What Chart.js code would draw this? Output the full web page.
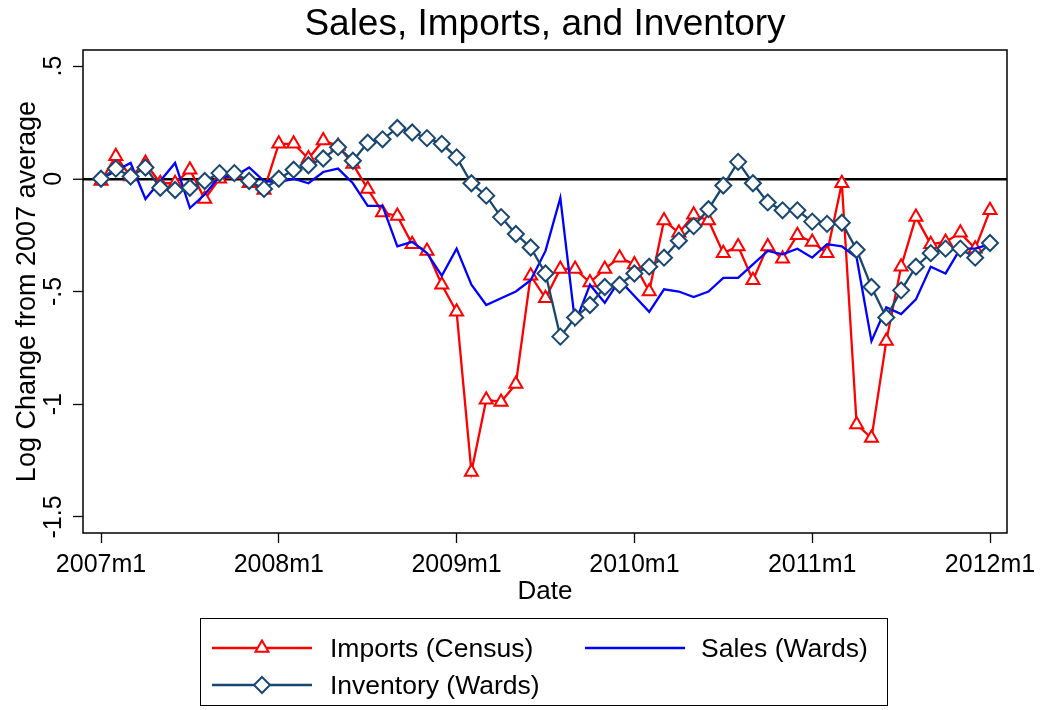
<!DOCTYPE html>
<html>
<head>
<meta charset="utf-8">
<script src="https://cdn.jsdelivr.net/npm/chart.js@4.4.1/dist/chart.umd.min.js"></script>
<style>
html,body{margin:0;padding:0;background:#fff;}
#wrap{position:relative;width:1045px;height:710px;font-family:"Liberation Sans",Arial,Helvetica,sans-serif;}
#c{position:absolute;left:0;top:0;}
#legend{position:absolute;left:200px;top:618px;width:688px;height:88px;border:1px solid #000;box-sizing:border-box;}
.sym{position:absolute;width:100px;height:30px;}
.lab{position:absolute;height:30px;line-height:30px;font-size:26.5px;color:#000;white-space:nowrap;}
</style>
</head>
<body>
<div id="wrap">
<canvas id="c" width="1045" height="710"></canvas>
<div id="legend"></div>
</div>
<script>
// ---- data (month index 0 = 2007m1 ... 60 = 2012m1) ----
const months = ["2007m1","2007m2","2007m3","2007m4","2007m5","2007m6","2007m7","2007m8","2007m9","2007m10","2007m11","2007m12",
"2008m1","2008m2","2008m3","2008m4","2008m5","2008m6","2008m7","2008m8","2008m9","2008m10","2008m11","2008m12",
"2009m1","2009m2","2009m3","2009m4","2009m5","2009m6","2009m7","2009m8","2009m9","2009m10","2009m11","2009m12",
"2010m1","2010m2","2010m3","2010m4","2010m5","2010m6","2010m7","2010m8","2010m9","2010m10","2010m11","2010m12",
"2011m1","2011m2","2011m3","2011m4","2011m5","2011m6","2011m7","2011m8","2011m9","2011m10","2011m11","2011m12",
"2012m1"];

const importsCensus = [-0.01,0.10,0.01,0.07,-0.02,-0.02,0.04,-0.09,0.00,0.02,-0.02,-0.05,
0.155,0.155,0.09,0.17,0.145,0.065,-0.045,-0.15,-0.165,-0.29,-0.32,-0.47,
-0.59,-1.30,-0.98,-0.99,-0.91,-0.43,-0.53,-0.40,-0.40,-0.46,-0.40,-0.35,
-0.38,-0.50,-0.185,-0.24,-0.16,-0.185,-0.33,-0.30,-0.45,-0.30,-0.355,-0.25,
-0.28,-0.33,-0.02,-1.09,-1.15,-0.72,-0.39,-0.17,-0.29,-0.28,-0.24,-0.31,
-0.14];

const salesWards = [0.00,0.035,0.07,-0.09,-0.01,0.07,-0.13,-0.07,0.01,0.01,0.05,-0.01,
-0.015,0.00,-0.02,0.03,0.045,-0.02,-0.12,-0.12,-0.30,-0.28,-0.33,-0.43,
-0.31,-0.47,-0.56,-0.53,-0.50,-0.45,-0.32,-0.085,-0.64,-0.47,-0.55,-0.45,
-0.52,-0.59,-0.49,-0.50,-0.525,-0.50,-0.44,-0.44,-0.38,-0.32,-0.335,-0.31,
-0.35,-0.29,-0.30,-0.35,-0.72,-0.57,-0.60,-0.535,-0.39,-0.42,-0.31,-0.31,
-0.29];

const inventoryWards = [0.00,0.045,0.01,0.05,-0.04,-0.05,-0.04,-0.01,0.025,0.025,-0.01,-0.045,
0.00,0.04,0.06,0.09,0.14,0.08,0.16,0.175,0.225,0.205,0.18,0.155,
0.095,-0.02,-0.075,-0.17,-0.245,-0.305,-0.42,-0.70,-0.615,-0.56,-0.48,-0.47,
-0.42,-0.39,-0.35,-0.275,-0.21,-0.135,-0.03,0.075,-0.02,-0.105,-0.14,-0.14,
-0.19,-0.20,-0.195,-0.315,-0.48,-0.615,-0.495,-0.39,-0.33,-0.31,-0.31,-0.35,
-0.285];

const xTickValues = [0,12,24,36,48,60];
const xTickLabels = ["2007m1","2008m1","2009m1","2010m1","2011m1","2012m1"];
const yTickValues = [0.5,0,-0.5,-1,-1.5];
const yTickLabels = [".5","0","-.5","-1","-1.5"];

const seriesNames = ["Imports (Census)","Sales (Wards)","Inventory (Wards)"];
const RED = "#ff0000", BLUE = "#0000ff", NAVY = "#1a476f";
const FONT = '"Liberation Sans", Arial, Helvetica, sans-serif';

const toXY = arr => arr.map((v,i)=>({x:i,y:v}));

const extras = {
  id:'extras',
  afterDraw(chart){
    const {ctx, chartArea:a} = chart;
    const y = chart.scales.y;
    ctx.save();
    // frame
    ctx.strokeStyle = '#000';
    ctx.lineWidth = 1.5;
    ctx.strokeRect(a.left, a.top, a.right - a.left, a.bottom - a.top);
    // y tick labels (rotated, Stata style)
    ctx.fillStyle = '#000';
    ctx.font = '25px ' + FONT;
    ctx.textAlign = 'center';
    ctx.textBaseline = 'middle';
    yTickValues.forEach((v,i)=>{
      const py = y.getPixelForValue(v);
      ctx.save();
      ctx.translate(54, py);
      ctx.rotate(-Math.PI/2);
      ctx.fillText(yTickLabels[i], 0, 0);
      ctx.restore();
    });
    // title
    ctx.font = '37px ' + FONT;
    ctx.textBaseline = 'alphabetic';
    ctx.fillText('Sales, Imports, and Inventory', (a.left + a.right)/2, 35);
    ctx.restore();
  }
};

new Chart(document.getElementById('c'), {
  type: 'line',
  data: {
    datasets: [
      {label: seriesNames[0], data: toXY(importsCensus), borderColor: RED, borderWidth: 2.3,
       pointStyle: 'triangle', pointRadius: 7.5, pointBorderWidth: 2, pointBorderColor: RED,
       pointBackgroundColor: '#fff', order: 2},
      {label: seriesNames[1], data: toXY(salesWards), borderColor: BLUE, borderWidth: 2.3,
       pointRadius: 0, order: 1},
      {label: seriesNames[2], data: toXY(inventoryWards), borderColor: NAVY, borderWidth: 2.3,
       pointStyle: 'rectRot', pointRadius: 8, pointBorderWidth: 2, pointBorderColor: NAVY,
       pointBackgroundColor: '#fff', order: 0}
    ]
  },
  options: {
    responsive: false,
    animation: false,
    devicePixelRatio: 1,
    layout: {padding: {left: 0, right: 38, top: 50, bottom: 103}},
    elements: {line: {tension: 0}},
    plugins: {legend: {display: false}, tooltip: {enabled: false}, title: {display: false}},
    scales: {
      x: {
        type: 'linear',
        min: -1.215, max: 61.147,
        afterBuildTicks: s => { s.ticks = xTickValues.map(v => ({value: v})); },
        afterFit: s => { s.height = 74; },
        ticks: {
          color: '#000', padding: 7, maxRotation: 0, minRotation: 0, autoSkip: false,
          font: {family: FONT, size: 25},
          callback: v => xTickLabels[xTickValues.indexOf(v)]
        },
        grid: {drawOnChartArea: false, drawTicks: true, tickLength: 10, tickColor: '#000', tickWidth: 1.3},
        border: {display: false},
        title: {display: true, text: 'Date', color: '#000', font: {family: FONT, size: 26}, padding: {top: 0, bottom: 0}}
      },
      y: {
        type: 'linear',
        min: -1.571, max: 0.571,
        afterBuildTicks: s => { s.ticks = yTickValues.map(v => ({value: v})); },
        afterFit: s => { s.width = 83; },
        ticks: {display: false},
        grid: {
          drawOnChartArea: true, drawTicks: true, tickLength: 10, tickColor: '#000', tickWidth: 1.3,
          color: c => (c.tick && c.tick.value === 0) ? '#000' : 'rgba(0,0,0,0)',
          lineWidth: c => (c.tick && c.tick.value === 0) ? 2.5 : 1
        },
        border: {display: false},
        title: {display: true, text: 'Log Change from 2007 average', color: '#000',
                font: {family: FONT, size: 27}, padding: {top: 11, bottom: 0}}
      }
    }
  },
  plugins: [extras]
});

// ---- legend (HTML) ----
const legendItems = [
  {name: seriesNames[0], color: RED, marker: 'triangle', symLeft: 11, labLeft: 129, top: 14},
  {name: seriesNames[1], color: BLUE, marker: null, symLeft: 384, labLeft: 500, top: 14},
  {name: seriesNames[2], color: NAVY, marker: 'diamond', symLeft: 11, labLeft: 129, top: 51}
];
const lg = document.getElementById('legend');
legendItems.forEach(it => {
  let mk = '';
  if (it.marker === 'triangle') {
    mk = `<polygon points="50,7.5 56.5,18.75 43.5,18.75" fill="#fff" stroke="${it.color}" stroke-width="2"/>`;
  } else if (it.marker === 'diamond') {
    mk = `<polygon points="50,7 58,15 50,23 42,15" fill="#fff" stroke="${it.color}" stroke-width="2"/>`;
  }
  const sym = document.createElement('div');
  sym.className = 'sym';
  sym.style.left = it.symLeft + 'px';
  sym.style.top = it.top + 'px';
  sym.innerHTML = `<svg width="100" height="30"><line x1="0" y1="15" x2="100" y2="15" stroke="${it.color}" stroke-width="2.3"/>${mk}</svg>`;
  lg.appendChild(sym);
  const lab = document.createElement('div');
  lab.className = 'lab';
  lab.style.left = it.labLeft + 'px';
  lab.style.top = it.top + 'px';
  lab.textContent = it.name;
  lg.appendChild(lab);
});
</script>
</body>
</html>
